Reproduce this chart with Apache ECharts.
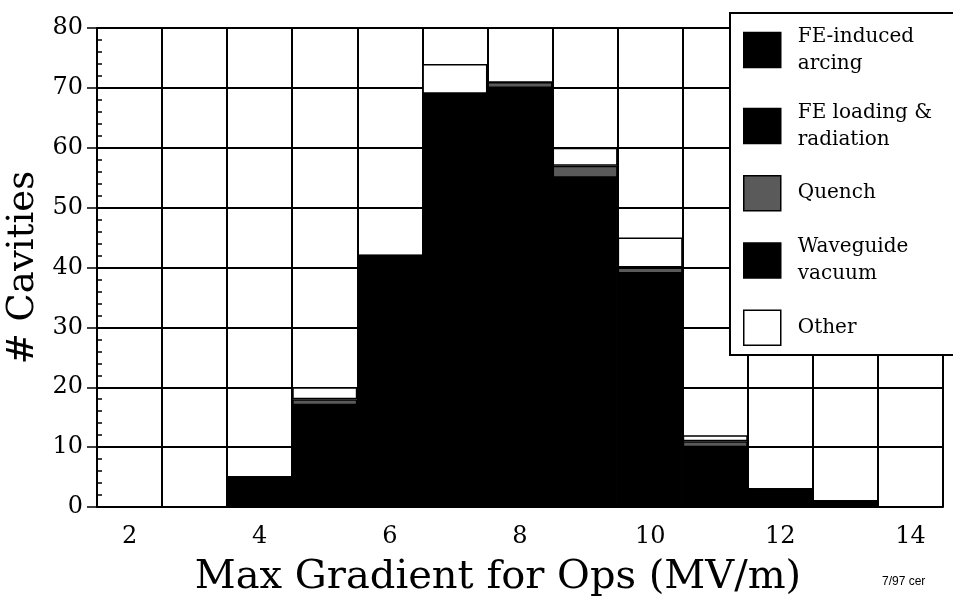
<!DOCTYPE html>
<html>
<head>
<meta charset="utf-8">
<script src="https://cdn.jsdelivr.net/npm/echarts@6/dist/echarts.min.js"></script>
<style>
html,body{margin:0;padding:0;background:#fff;}
#chart{width:953px;height:597px;}
</style>
</head>
<body>
<div id="chart"></div>
<script>
// ---- data ----
var categories = ['2','3','4','5','6','7','8','9','10','11','12','13','14'];
var feArcing   = [0,0,0,0,0,0,0,0,0,0,0,0,0];
var feLoading  = [0,0,5,17,42,69,70,55,39,10,3,1,0];
var waveguide  = [0,0,0,0,0,0,0,0,0,0,0,0,0];
var quench     = [0,0,0,1,0,0,1,2,1,1,0,0,0];
var other      = [0,0,0,2,0,5,0,3,5,1,0,0,0];
var yTicks     = [0,10,20,30,40,50,60,70,80];

var FONT = 'DejaVu Serif';
var chart = echarts.init(document.getElementById('chart'), null, {renderer:'canvas'});

function barSeries(name, data, color){
  return {
    name: name, type: 'bar', stack: 'total', data: data,
    barCategoryGap: '0%', barGap: '0%',
    itemStyle: {color: color, borderColor: '#000', borderWidth: 1.5},
    emphasis: {disabled: true},
    z: 3
  };
}

var option = {
  backgroundColor: '#fff',
  animation: false,
  grid: {left: 97, right: 10, top: 28, bottom: 90, containLabel: false, outerBoundsMode: 'none'},
  legend: {
    orient: 'vertical',
    left: 730, top: 13,
    padding: [10, 50, 9, 13],
    backgroundColor: '#fff',
    borderColor: '#000', borderWidth: 2,
    itemWidth: 37, itemHeight: 35, itemGap: 22,
    icon: 'rect',
    selectedMode: false,
    itemStyle: {borderColor: '#000', borderWidth: 1.5},
    data: ['FE-induced arcing', 'FE loading & radiation', 'Quench', 'Waveguide vacuum', 'Other'],
    formatter: function(n){
      var map = {
        'FE-induced arcing': 'FE-induced\narcing',
        'FE loading & radiation': 'FE loading &\nradiation',
        'Quench': 'Quench',
        'Waveguide vacuum': 'Waveguide\nvacuum',
        'Other': 'Other'
      };
      return map[n];
    },
    textStyle: {fontFamily: FONT, fontSize: 20, lineHeight: 27, color: '#000', padding: [0,0,0,12]},
    z: 10
  },
  xAxis: {
    type: 'category',
    data: categories,
    boundaryGap: true,
    name: 'Max Gradient for Ops (MV/m)',
    nameLocation: 'middle',
    nameGap: 51,
    nameMoveOverlap: false,
    nameTextStyle: {fontFamily: FONT, fontSize: 40, color: '#000', padding: [0, 44, 0, 0]},
    axisLine: {show: true, lineStyle: {color: '#000', width: 2}},
    axisTick: {show: false},
    axisLabel: {interval: 1, fontFamily: FONT, fontSize: 24, color: '#000', margin: 18},
    splitLine: {show: true, interval: 0, lineStyle: {color: '#000', width: 2}}
  },
  yAxis: [{
    type: 'value', min: yTicks[0], max: yTicks[yTicks.length-1], interval: 10,
    name: '# Cavities',
    nameLocation: 'middle',
    nameGap: 55,
    nameMoveOverlap: false,
    nameTextStyle: {fontFamily: FONT, fontSize: 37, color: '#000'},
    axisLine: {show: true, lineStyle: {color: '#000', width: 2}},
    axisTick: {show: true, inside: false, length: 10, lineStyle: {color: '#000', width: 1.5}},
    axisLabel: {fontFamily: FONT, fontSize: 24, color: '#000', margin: 14},
    splitLine: {show: true, lineStyle: {color: '#000', width: 2}}
  }, {
    type: 'value', min: yTicks[0], max: yTicks[yTicks.length-1], interval: 10,
    position: 'left', offset: 0,
    axisLine: {show: true, lineStyle: {color: '#000', width: 2}},
    axisTick: {show: true, inside: true, length: 5, lineStyle: {color: '#000', width: 1.5}},
    minorTick: {show: true, splitNumber: 5, length: 5, lineStyle: {color: '#000', width: 1.5}},
    axisLabel: {show: false},
    splitLine: {show: false}
  }],
  series: [
    barSeries('FE-induced arcing', feArcing, '#000'),
    barSeries('FE loading & radiation', feLoading, '#000'),
    barSeries('Waveguide vacuum', waveguide, '#000'),
    barSeries('Quench', quench, '#5a5a5a'),
    barSeries('Other', other, '#fff')
  ],
  graphic: [{
    type: 'text', left: 882, top: 576,
    style: {text: '7/97 cer', font: '12px "Liberation Sans", Arial, sans-serif', fill: '#000'}
  }]
};
chart.setOption(option);
</script>
</body>
</html>
